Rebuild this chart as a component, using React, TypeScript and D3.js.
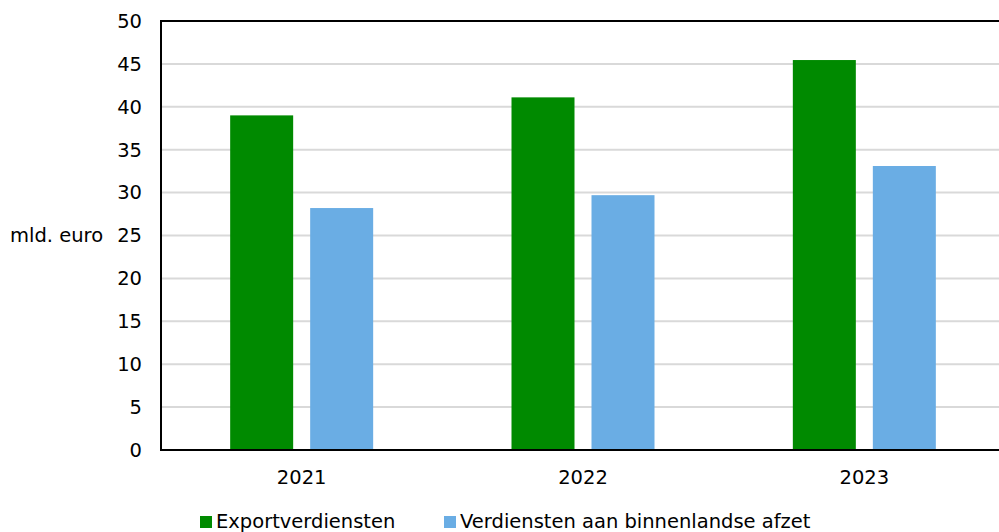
import React from "react";
import * as d3 from "d3";

const categories = ["2021", "2022", "2023"];
const seriesNames = ["Exportverdiensten", "Verdiensten aan binnenlandse afzet"];
const exportValues = [39.0, 41.1, 45.45];
const domesticValues = [28.2, 29.7, 33.1];
const yTicks = [0, 5, 10, 15, 20, 25, 30, 35, 40, 45, 50];
const colors = ["#008a00", "#6aade4"];
const yLabel = "mld. euro";

const W = 999;
const H = 532;
const left = 161;
const right = 1005;
const top = 21;
const bottom = 450;
const font = "'DejaVu Sans', Verdana, sans-serif";
const fs = 19.5;

export default function App() {
  const x = d3.scaleBand<string>().domain(categories).range([left, right]).paddingInner(0).paddingOuter(0);
  const y = d3.scaleLinear().domain([0, 50]).range([bottom, top]);
  const series = [exportValues, domesticValues];
  const barW = 63;
  const gap = 17;
  const groupW = barW * 2 + gap;

  return (
    <svg width={W} height={H} style={{ position: "absolute", left: 0, top: 0, background: "#fff" }}>
      {yTicks.map((t) => (
        <line key={"g" + t} x1={left} x2={right} y1={y(t)} y2={y(t)} stroke="#d9d9d9" strokeWidth={2} />
      ))}
      {categories.map((c, i) => {
        const x0 = (x(c) as number) + (x.bandwidth() - groupW) / 2;
        return series.map((s, j) => (
          <rect
            key={c + j}
            x={x0 + j * (barW + gap)}
            y={y(s[i])}
            width={barW}
            height={bottom - y(s[i])}
            fill={colors[j]}
          />
        ));
      })}
      <line x1={left} x2={right} y1={top} y2={top} stroke="#000" strokeWidth={2} />
      <line x1={left} x2={right} y1={bottom} y2={bottom} stroke="#000" strokeWidth={2} />
      <line x1={left} x2={left} y1={top - 1} y2={bottom + 1} stroke="#000" strokeWidth={2} />
      {yTicks.map((t) => (
        <text key={"t" + t} x={142} y={y(t)} dy="0.35em" textAnchor="end" fontFamily={font} fontSize={fs} fill="#000">
          {t}
        </text>
      ))}
      <text x={10} y={y(25)} dy="0.35em" fontFamily={font} fontSize={fs} fill="#000">
        {yLabel}
      </text>
      {categories.map((c) => (
        <text key={"x" + c} x={(x(c) as number) + x.bandwidth() / 2} y={484} textAnchor="middle" fontFamily={font} fontSize={fs} fill="#000">
          {c}
        </text>
      ))}
      {seriesNames.map((n, j) => {
        const lx = [200, 444][j];
        return (
          <g key={n}>
            <rect x={lx} y={516} width={12} height={12} fill={colors[j]} />
            <text x={lx + 16} y={528} fontFamily={font} fontSize={fs} fill="#000">
              {n}
            </text>
          </g>
        );
      })}
    </svg>
  );
}
